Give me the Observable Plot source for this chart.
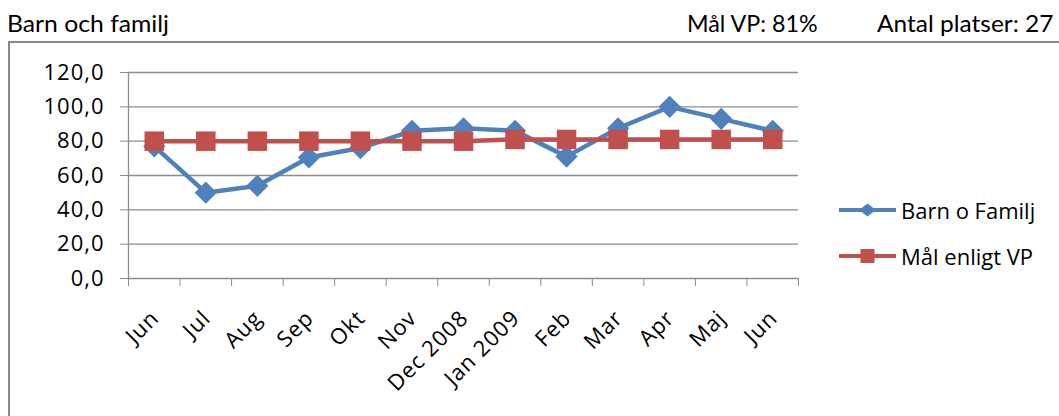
<!DOCTYPE html>
<html><head><meta charset="utf-8">
<script src="https://cdn.jsdelivr.net/npm/d3@7"></script>
<script src="https://cdn.jsdelivr.net/npm/@observablehq/plot@0.6"></script>
<style>
body{margin:0;background:#fff;width:1059px;height:416px;overflow:hidden;position:relative;font-family:Lato,"Open Sans",sans-serif;}
.hdr{position:absolute;top:11px;font-size:24px;line-height:1;color:#000;white-space:nowrap;transform-origin:left center;}
#box{position:absolute;left:8px;top:41px;width:1100px;height:500px;border-left:2px solid #8a8a8a;border-top:2px solid #8a8a8a;}
#chart{position:absolute;left:0;top:42px;}
.leg{position:absolute;left:839px;height:30px;font-family:"Open Sans",sans-serif;font-size:22px;color:#000;display:flex;align-items:center;white-space:nowrap;}
.leg svg{margin-right:5px}
#chart text{letter-spacing:1px;}
</style></head>
<body>
<div class="hdr" style="left:7px;transform:scaleX(1.03)">Barn och familj</div>
<div class="hdr" style="left:687px;transform:scaleX(0.97)">Mål VP: 81%</div>
<div class="hdr" style="left:877px;transform:scaleX(1.02)">Antal platser: 27</div>
<div id="box"></div>
<div id="chart"></div>
<div class="leg" style="top:195px"><svg width="57" height="20"><line x1="0" x2="57" y1="10" y2="10" stroke="#4F81BD" stroke-width="4"/><path d="M28.5,3.5 L37,10 L28.5,16.5 L20,10Z" fill="#4F81BD"/></svg>Barn o Familj</div>
<div class="leg" style="top:241px"><svg width="57" height="20"><line x1="0" x2="57" y1="10" y2="10" stroke="#C0504D" stroke-width="4"/><rect x="21.5" y="3" width="14" height="14" fill="#C0504D"/></svg>Mål enligt VP</div>
<script>
const months = ["Jun","Jul","Aug","Sep","Okt","Nov","Dec 2008","Jan 2009","Feb","Mar","Apr","Maj","Jun"];
const barnOFamilj = [77, 50, 54, 70.5, 76, 86, 87.5, 86, 71, 87.5, 100, 93, 86];
const malEnligtVP = [80, 80, 80, 80, 80, 80, 80, 81, 81, 81, 81, 81, 81];
const yTicks = [0, 20, 40, 60, 80, 100, 120];

const idx = months.map((_, i) => i);
const bounds = d3.range(months.length + 1).map(i => i - 0.5);
const blue = idx.map(i => ({i, v: barnOFamilj[i]}));
const red = idx.map(i => ({i, v: malEnligtVP[i]}));
const grid = "#8c8c8c";
const chart = Plot.plot({
  width: 1059, height: 374,
  marginLeft: 128, marginRight: 261, marginTop: 30, marginBottom: 138,
  style: {fontFamily: "'Open Sans', sans-serif", fontSize: "22px", color: "#000", background: "transparent"},
  x: {type: "linear", domain: [-0.5, 12.5], label: null},
  y: {domain: [0, 120], label: null},
  marks: [
    Plot.ruleY(yTicks, {stroke: grid, strokeWidth: 1.3}),
    Plot.ruleX([-0.5], {stroke: grid, strokeWidth: 1.3}),
    Plot.axisY({ticks: yTicks, tickSize: 8, tickPadding: 16, stroke: grid, label: null, tickFormat: d => d.toFixed(1).replace(".", ","), fontSize: 22}),
    Plot.axisX({ticks: bounds, tickSize: 8, stroke: grid, label: null, tickFormat: () => ""}),
    Plot.axisX({ticks: idx, tickSize: 0, tickRotate: -45, tickPadding: 36, dx: 1, label: null, tickFormat: i => months[i], fontSize: 22}),
    Plot.line(blue, {x: "i", y: "v", stroke: "#4F81BD", strokeWidth: 4.5}),
    Plot.dot(blue, {x: "i", y: "v", symbol: "diamond2", r: 10, fill: "#4F81BD", stroke: "none"}),
    Plot.line(red, {x: "i", y: "v", stroke: "#C0504D", strokeWidth: 4.5}),
    Plot.dot(red, {x: "i", y: "v", symbol: "square", r: 11, fill: "#C0504D", stroke: "none"})
  ]
});
document.getElementById("chart").appendChild(chart);
</script>
</body></html>
